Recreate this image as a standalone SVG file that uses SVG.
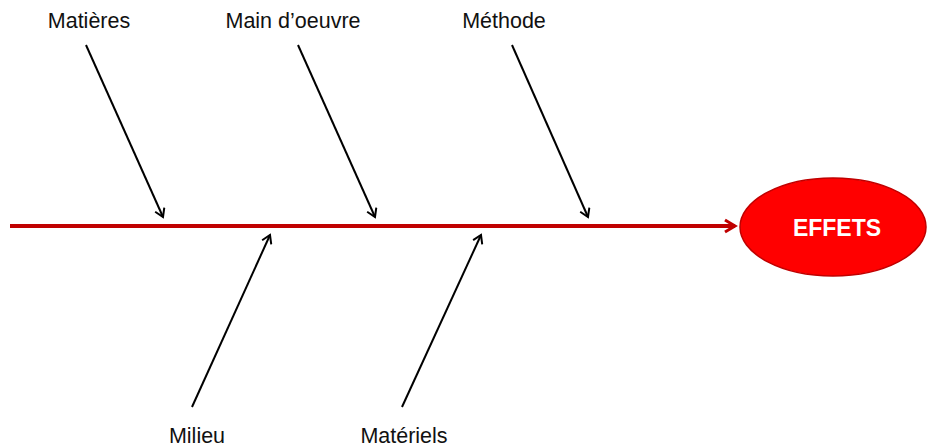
<svg xmlns="http://www.w3.org/2000/svg" width="928" height="447" viewBox="0 0 928 447">
<style>
.lbl{font-family:"Liberation Sans",Arial,sans-serif;font-size:21.5px;fill:#111;}
.cause{stroke:#000;stroke-width:2;fill:none;marker-end:url(#ah);}
</style>
<defs>
<marker id="ah" markerWidth="12" markerHeight="12" refX="10" refY="6" orient="auto" markerUnits="userSpaceOnUse">
<path d="M2,1 L10,6 L2,11" fill="none" stroke="#000" stroke-width="2"/>
</marker>
<marker id="rh" markerWidth="16" markerHeight="16" refX="13" refY="8" orient="auto" markerUnits="userSpaceOnUse">
<path d="M3,2 L13,8 L3,14" fill="none" stroke="#c00000" stroke-width="3"/>
</marker>
</defs>
<g id="connectors">
<line x1="10" y1="226" x2="735" y2="226" stroke="#c00000" stroke-width="4" marker-end="url(#rh)"/>
<line class="cause" x1="86" y1="45" x2="163" y2="217"/>
<line class="cause" x1="298" y1="45" x2="375" y2="217"/>
<line class="cause" x1="512" y1="45" x2="588" y2="217"/>
<line class="cause" x1="192" y1="407" x2="270" y2="235"/>
<line class="cause" x1="402" y1="407" x2="481" y2="235"/>
</g>
<g id="effets">
<ellipse cx="833" cy="227" rx="93" ry="49" fill="#ff0000" stroke="#c00000" stroke-width="1.5"/>
<text x="837" y="236" text-anchor="middle" font-family="Liberation Sans,Arial,sans-serif" font-size="23" font-weight="bold" fill="#fff">EFFETS</text>
</g>
<g id="matieres"><text class="lbl" x="89" y="28" text-anchor="middle">Matières</text></g>
<g id="main-oeuvre"><text class="lbl" x="293" y="28" text-anchor="middle">Main d’oeuvre</text></g>
<g id="methode"><text class="lbl" x="504" y="28" text-anchor="middle">Méthode</text></g>
<g id="milieu"><text class="lbl" x="197" y="443" text-anchor="middle">Milieu</text></g>
<g id="materiels"><text class="lbl" x="404" y="443" text-anchor="middle">Matériels</text></g>
</svg>
